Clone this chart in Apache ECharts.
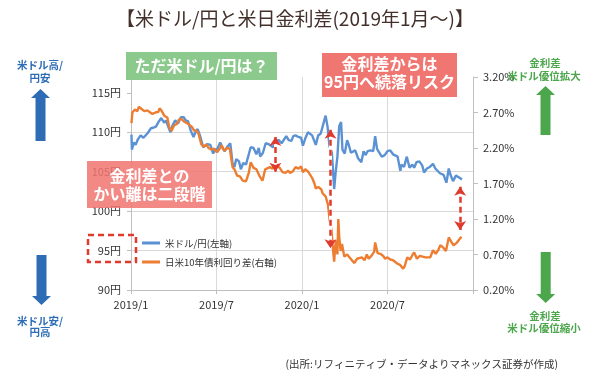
<!DOCTYPE html>
<html><head><meta charset="utf-8">
<script src="https://cdn.jsdelivr.net/npm/echarts@6/dist/echarts.min.js"></script>
<style>html,body{margin:0;padding:0;background:#fff}#c{width:590px;height:380px}</style>
</head><body><div id="c"></div>
<script>
// ---- data ----
const usdJpyDates = ['2019/01/02','2019/01/03','2019/01/07','2019/01/11','2019/01/16','2019/01/22','2019/01/28','2019/02/01','2019/02/06','2019/02/12','2019/02/18','2019/02/22','2019/02/28','2019/03/05','2019/03/11','2019/03/15','2019/03/20','2019/03/25','2019/03/29','2019/04/04','2019/04/10','2019/04/16','2019/04/22','2019/04/26','2019/05/01','2019/05/07','2019/05/13','2019/05/17','2019/05/22','2019/05/28','2019/06/03','2019/06/07','2019/06/12','2019/06/18','2019/06/24','2019/06/28','2019/07/03','2019/07/09','2019/07/15','2019/07/19','2019/07/25','2019/07/31','2019/08/05','2019/08/09','2019/08/13','2019/08/19','2019/08/23','2019/08/28','2019/09/03','2019/09/09','2019/09/13','2019/09/19','2019/09/25','2019/09/30','2019/10/03','2019/10/09','2019/10/15','2019/10/21','2019/10/25','2019/10/31','2019/11/06','2019/11/12','2019/11/18','2019/11/22','2019/11/28','2019/12/03','2019/12/09','2019/12/13','2019/12/18','2019/12/24','2019/12/30','2020/01/03','2020/01/08','2020/01/14','2020/01/17','2020/01/23','2020/01/31','2020/02/05','2020/02/10','2020/02/14','2020/02/20','2020/02/24','2020/02/28','2020/03/04','2020/03/09','2020/03/12','2020/03/16','2020/03/20','2020/03/24','2020/03/27','2020/04/01','2020/04/06','2020/04/09','2020/04/14','2020/04/17','2020/04/23','2020/04/29','2020/05/06','2020/05/11','2020/05/15','2020/05/20','2020/05/26','2020/06/01','2020/06/05','2020/06/09','2020/06/15','2020/06/19','2020/06/25','2020/07/01','2020/07/07','2020/07/13','2020/07/17','2020/07/23','2020/07/29','2020/07/31','2020/08/06','2020/08/12','2020/08/18','2020/08/24','2020/08/28','2020/09/02','2020/09/08','2020/09/14','2020/09/18','2020/09/24','2020/09/30','2020/10/07','2020/10/12','2020/10/16','2020/10/22','2020/10/30','2020/11/05','2020/11/10','2020/11/13','2020/11/19','2020/11/25','2020/12/01','2020/12/04','2020/12/08'];
const usdJpyValues = [109.7,107.8,108.7,108.4,109.1,109.6,109.3,109.5,109.9,110.5,110.6,110.7,111.4,111.8,111.2,111.5,110.7,110.0,110.8,111.5,111.1,111.9,111.9,111.5,111.4,110.2,109.4,110.0,110.4,109.4,108.1,108.2,108.5,108.4,107.3,107.8,107.9,108.7,107.9,107.6,108.2,108.6,106.0,105.6,106.6,106.3,105.3,106.1,105.9,107.2,108.1,108.0,107.2,108.0,106.9,107.4,108.6,108.5,108.7,108.1,108.9,109.0,108.6,108.6,109.5,109.0,108.9,109.5,109.6,109.4,109.3,108.3,109.2,110.0,110.1,109.6,108.4,109.6,109.8,109.8,112.1,110.7,108.2,107.4,102.8,104.8,106.9,110.8,111.3,107.8,107.3,109.0,108.5,107.4,107.6,107.7,106.7,106.2,107.6,107.1,107.6,107.7,107.6,109.5,107.9,107.3,106.9,107.1,107.6,107.7,107.2,107.1,106.9,105.1,105.9,105.6,106.9,105.5,105.9,105.5,106.2,106.3,105.8,104.9,105.4,105.6,106.0,105.4,105.5,104.8,104.6,103.6,105.4,104.7,103.8,104.5,104.3,104.1,104.0];

const spreadDates = ['2019/01/02','2019/01/04','2019/01/09','2019/01/15','2019/01/18','2019/01/24','2019/01/30','2019/02/05','2019/02/11','2019/02/15','2019/02/21','2019/02/27','2019/03/01','2019/03/06','2019/03/12','2019/03/18','2019/03/22','2019/03/27','2019/04/02','2019/04/08','2019/04/12','2019/04/17','2019/04/23','2019/04/29','2019/05/03','2019/05/09','2019/05/14','2019/05/20','2019/05/24','2019/05/30','2019/06/04','2019/06/10','2019/06/14','2019/06/20','2019/06/26','2019/07/02','2019/07/08','2019/07/12','2019/07/18','2019/07/24','2019/07/30','2019/08/05','2019/08/09','2019/08/15','2019/08/21','2019/08/27','2019/09/03','2019/09/09','2019/09/13','2019/09/19','2019/09/25','2019/10/02','2019/10/08','2019/10/14','2019/10/18','2019/10/24','2019/10/30','2019/11/05','2019/11/08','2019/11/14','2019/11/20','2019/11/26','2019/12/02','2019/12/06','2019/12/12','2019/12/18','2019/12/24','2019/12/30','2020/01/03','2020/01/08','2020/01/14','2020/01/17','2020/01/23','2020/01/28','2020/01/31','2020/02/05','2020/02/11','2020/02/14','2020/02/20','2020/02/25','2020/02/28','2020/03/03','2020/03/06','2020/03/09','2020/03/11','2020/03/13','2020/03/16','2020/03/18','2020/03/20','2020/03/23','2020/03/26','2020/03/31','2020/04/06','2020/04/10','2020/04/16','2020/04/21','2020/04/27','2020/05/01','2020/05/07','2020/05/13','2020/05/18','2020/05/22','2020/05/28','2020/06/03','2020/06/05','2020/06/10','2020/06/16','2020/06/22','2020/06/26','2020/07/01','2020/07/07','2020/07/13','2020/07/17','2020/07/23','2020/07/29','2020/08/04','2020/08/07','2020/08/13','2020/08/19','2020/08/25','2020/08/28','2020/09/03','2020/09/09','2020/09/15','2020/09/21','2020/09/25','2020/10/01','2020/10/07','2020/10/13','2020/10/19','2020/10/23','2020/10/29','2020/11/04','2020/11/10','2020/11/16','2020/11/20','2020/11/26','2020/12/02','2020/12/07'];
const spreadValues = [2.55,2.70,2.74,2.72,2.78,2.75,2.72,2.73,2.70,2.68,2.70,2.71,2.76,2.72,2.65,2.63,2.50,2.44,2.52,2.54,2.60,2.61,2.57,2.55,2.56,2.50,2.45,2.44,2.40,2.25,2.22,2.25,2.20,2.18,2.19,2.14,2.19,2.24,2.16,2.20,2.19,1.93,1.90,1.81,1.80,1.74,1.73,1.85,2.00,1.92,1.90,1.80,1.74,1.90,1.91,1.93,1.91,1.98,2.00,1.92,1.86,1.85,1.88,1.85,1.87,1.93,1.91,1.94,1.86,1.90,1.87,1.85,1.78,1.70,1.63,1.65,1.62,1.56,1.52,1.40,1.20,1.05,0.80,0.60,0.80,0.90,0.70,1.20,0.95,0.75,0.85,0.67,0.70,0.72,0.62,0.58,0.64,0.62,0.66,0.62,0.70,0.64,0.68,0.74,0.87,0.72,0.71,0.68,0.64,0.66,0.63,0.62,0.60,0.57,0.55,0.50,0.53,0.66,0.63,0.70,0.73,0.64,0.68,0.67,0.66,0.65,0.66,0.76,0.71,0.77,0.83,0.80,0.75,0.94,0.87,0.83,0.86,0.91,0.95];

const leftTicks = [90, 95, 100, 105, 110, 115];
const rightTicks = [0.2, 0.7, 1.2, 1.7, 2.2, 2.7, 3.2];
const xTickLabels = ['2019/1', '2019/7', '2020/1', '2020/7'];
const seriesNames = ['米ドル/円(左軸)', '日米10年債利回り差(右軸)'];
// gap annotations (date, upper yen level, lower yen level)
const gapDates = ['2019/11/05', '2020/03/01', '2020/12/04'];
const gapTops = [109.4, 110.3, 103.1];
const gapBottoms = [105.0, 95.3, 97.6];

// ---- helpers ----
function toMonths(s) {
  const p = s.split('/').map(Number);
  const dim = new Date(p[0], p[1], 0).getDate();
  return (p[0] - 2019) * 12 + (p[1] - 1) + (p[2] - 1) / dim;
}
const usdJpyData = usdJpyDates.map((d, i) => [toMonths(d), usdJpyValues[i]]);
const spreadData = spreadDates.map((d, i) => [toMonths(d), spreadValues[i]]);

const FONT = '"Noto Sans CJK JP", "Noto Sans", sans-serif';
const BLUE = '#5B92D3', ORANGE = '#ED7D31', RED = '#E03A2E';
const GRIDC = '#D9D9D9', AXISC = '#BFBFBF';

const gapLines = [];
gapDates.forEach((d, i) => {
  const x = toMonths(d);
  gapLines.push([{coord: [x, gapTops[i]], symbol: 'none', lineStyle: {color: '#fff', width: 3, type: 'solid'}},
                 {coord: [x, gapBottoms[i]], symbol: 'none'}]);
});
gapDates.forEach((d, i) => {
  const x = toMonths(d);
  gapLines.push([{coord: [x, gapTops[i]], lineStyle: {color: RED, width: 2.5, type: [6, 4]}},
                 {coord: [x, gapBottoms[i]]}]);
});

function arrow(cx, top, bottom, up, color) {
  const hw = 9.5, sw = 5, hh = 9;
  let pts;
  if (up) {
    pts = [[cx, top], [cx + hw, top + hh], [cx + sw, top + hh], [cx + sw, bottom], [cx - sw, bottom], [cx - sw, top + hh], [cx - hw, top + hh]];
  } else {
    pts = [[cx, bottom], [cx + hw, bottom - hh], [cx + sw, bottom - hh], [cx + sw, top], [cx - sw, top], [cx - sw, bottom - hh], [cx - hw, bottom - hh]];
  }
  return {type: 'polygon', z: 100, shape: {points: pts}, style: {fill: color}};
}
function txt(x, y, s, size, color, bold, align) {
  return {type: 'text', z: 101, x: x, y: y,
    style: {text: s, font: (bold ? 'bold ' : '') + size + 'px ' + FONT, fill: color,
      textAlign: align || 'center', textVerticalAlign: 'middle'}};
}
function box(x, y, w, h, color) {
  return {type: 'rect', z: 100, shape: {x: x, y: y, width: w, height: h}, style: {fill: color}};
}

const DBLUE = '#2E6DB5', GREEN = '#4CA64C';

const chart = echarts.init(document.getElementById('c'), null, {renderer: 'canvas'});
chart.setOption({
  animation: false,
  backgroundColor: '#fff',
  textStyle: {fontFamily: FONT},
  title: {
    text: '【米ドル/円と米日金利差(2019年1月～)】', left: 'center', top: 4,
    textStyle: {fontSize: 19, fontWeight: 'normal', color: '#43302A', fontFamily: FONT}
  },
  grid: {left: 131, right: 117, top: 77, bottom: 90},
  legend: {
    left: 137, top: 231, orient: 'vertical', itemWidth: 18, itemHeight: 3, itemGap: 5,
    icon: 'rect',
    textStyle: {fontSize: 9.5, color: '#333', lineHeight: 14, fontFamily: FONT},
    data: seriesNames
  },
  xAxis: {
    type: 'value', min: 0, max: 24, interval: 6,
    axisLine: {lineStyle: {color: AXISC}},
    axisTick: {show: true, length: 4, lineStyle: {color: AXISC}},
    axisLabel: {fontSize: 11, color: '#333', margin: 9,
      formatter: v => xTickLabels[Math.round(v / 6)] || ''},
    splitLine: {show: true, showMinLine: false, showMaxLine: false, lineStyle: {color: GRIDC}}
  },
  yAxis: [{
    type: 'value', min: 90, max: 117, interval: 5,
    axisLine: {show: true, lineStyle: {color: AXISC}},
    axisTick: {show: true, length: 4, customValues: leftTicks, lineStyle: {color: AXISC}},
    axisLabel: {fontSize: 11, color: '#333', margin: 10, customValues: leftTicks,
      formatter: v => v + '円'},
    splitLine: {show: true, showMaxLine: false, lineStyle: {color: GRIDC}}
  }, {
    type: 'value', min: 0.2, max: 3.2, position: 'right',
    axisLine: {show: true, lineStyle: {color: AXISC}},
    axisTick: {show: true, length: 5, customValues: rightTicks, lineStyle: {color: AXISC}},
    axisLabel: {fontSize: 11, color: '#333', margin: 10, customValues: rightTicks,
      formatter: v => v.toFixed(2) + '%'},
    splitLine: {show: false}
  }],
  series: [{
    name: seriesNames[0], type: 'line', yAxisIndex: 0, data: usdJpyData,
    showSymbol: false, symbol: 'none', lineStyle: {color: BLUE, width: 2.4}, itemStyle: {color: BLUE},
    markLine: {silent: true, z: 10, symbol: ['arrow', 'arrow'], symbolSize: [9, 9], label: {show: false},
      data: gapLines}
  }, {
    name: seriesNames[1], type: 'line', yAxisIndex: 1, data: spreadData,
    showSymbol: false, symbol: 'none', lineStyle: {color: ORANGE, width: 2.4}, itemStyle: {color: ORANGE}
  }],
  graphic: {elements: [
    box(126, 52, 151, 28, '#8CC98C'),
    txt(201.5, 66, 'ただ米ドル/円は？', 16, '#fff', true),
    box(322, 53, 135, 44, '#F07671'),
    txt(389.5, 64, '金利差からは', 16, '#fff', true),
    txt(389.5, 82, '95円へ続落リスク', 16, '#fff', true),
    box(87, 161, 125, 47, 'rgba(240,118,113,0.86)'),
    txt(149.5, 175.5, '金利差との', 16, '#fff', true),
    txt(149.5, 193.5, 'かい離は二段階', 16, '#fff', true),
    {type: 'rect', z: 100, shape: {x: 88, y: 235, width: 48, height: 27},
      style: {fill: 'none', stroke: RED, lineWidth: 2.5, lineDash: [6, 4]}},
    txt(40, 65, '米ドル高/', 10.5, DBLUE, true),
    txt(40, 78, '円安', 10.5, DBLUE, true),
    arrow(40.5, 89, 141, true, DBLUE),
    arrow(41.5, 255, 305, false, DBLUE),
    txt(40, 321, '米ドル安/', 10.5, DBLUE, true),
    txt(40, 332, '円高', 10.5, DBLUE, true),
    txt(545, 63, '金利差', 10.5, GREEN, true),
    txt(544, 76, '米ドル優位拡大', 10.5, GREEN, true),
    arrow(545.5, 86, 135, true, GREEN),
    arrow(545.7, 252, 303, false, GREEN),
    txt(545, 316, '金利差', 10.5, GREEN, true),
    txt(544, 328, '米ドル優位縮小', 10.5, GREEN, true),
    txt(558, 364, '(出所:リフィニティブ・データよりマネックス証券が作成)', 10.5, '#333', false, 'right')
  ]}
});
</script></body></html>
